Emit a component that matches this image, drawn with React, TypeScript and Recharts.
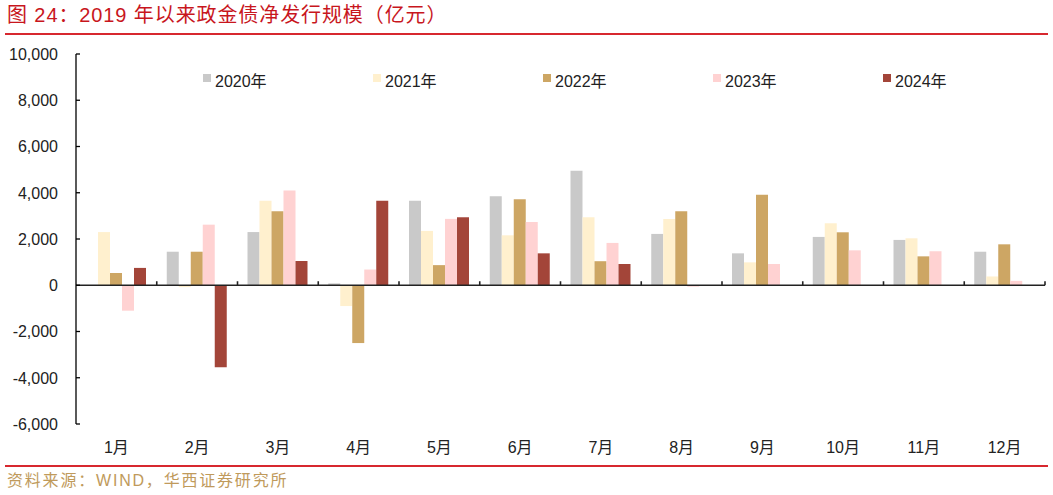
import React from 'react';
import { BarChart, Bar, XAxis, YAxis, ReferenceLine } from 'recharts';

const months = ['1月', '2月', '3月', '4月', '5月', '6月', '7月', '8月', '9月', '10月', '11月', '12月'];

const y2020 = [null, 1450, 2300, 80, 3650, 3850, 4950, 2220, 1380, 2090, 1960, 1450];
const y2021 = [2300, -80, 3650, -900, 2350, 2160, 2940, 2870, 990, 2680, 2030, 380];
const y2022 = [530, 1450, 3200, -2500, 870, 3720, 1040, 3200, 3910, 2290, 1250, 1770];
const y2023 = [-1100, 2620, 4100, 680, 2870, 2740, 1830, -60, 920, 1510, 1470, 190];
const y2024 = [750, -3550, 1050, 3650, 2940, 1380, 920, null, null, null, null, null];

const yTicks = [-6000, -4000, -2000, 0, 2000, 4000, 6000, 8000, 10000];

const series = [
  { key: 'y2020', name: '2020年', color: '#C9C9C9' },
  { key: 'y2021', name: '2021年', color: '#FFF0CE' },
  { key: 'y2022', name: '2022年', color: '#CDA664' },
  { key: 'y2023', name: '2023年', color: '#FFD2D2' },
  { key: 'y2024', name: '2024年', color: '#A34539' },
];

const data = months.map((m, i) => ({
  month: m,
  y2020: y2020[i],
  y2021: y2021[i],
  y2022: y2022[i],
  y2023: y2023[i],
  y2024: y2024[i],
}));

const FONT = '"Liberation Sans", Arial, "Noto Sans CJK SC", sans-serif';
const Y_MARGIN = 18;

const YTick = (props: any) => {
  const { x, y, payload } = props;
  const axisX = x + Y_MARGIN;
  return (
    <g>
      <line x1={axisX} y1={y} x2={axisX + 4} y2={y} stroke="#000" strokeWidth={1.3} />
      <text x={x} y={y} dy="0.36em" textAnchor="end" fontSize={16} fill="#222" fontFamily={FONT}>
        {payload.value.toLocaleString('en-US')}
      </text>
    </g>
  );
};

// zero line with small category separator ticks
const ZeroLine = (props: any) => {
  const { x1, y1, x2, y2 } = props;
  const step = (x2 - x1) / months.length;
  return (
    <g>
      <line x1={x1} y1={y1} x2={x2} y2={y2} stroke="#222" strokeWidth={1.6} />
      {months.map((m, i) => (
        <line key={m} x1={x1 + step * (i + 1)} y1={y1} x2={x1 + step * (i + 1)} y2={y1 - 4} stroke="#222" strokeWidth={1.6} />
      ))}
    </g>
  );
};

const App: React.FC = () => {
  return (
    <div style={{ position: 'absolute', left: 0, top: 0, width: 1053, height: 495, background: '#fff', overflow: 'hidden', fontFamily: FONT }}>
      <div style={{ position: 'absolute', left: 7, top: 3, fontSize: 20, lineHeight: '24px', color: '#C8161D', letterSpacing: 0.9, whiteSpace: 'nowrap' }}>
        图 24：2019 年以来政金债净发行规模（亿元）
      </div>
      <div style={{ position: 'absolute', left: 5, top: 33, width: 1043, height: 1.5, background: '#D7282F' }} />

      <BarChart
        width={1053}
        height={495}
        data={data}
        margin={{ top: 54, right: 8, bottom: 41, left: 0 }}
        barCategoryGap={10}
        barGap={0}
        style={{ position: 'absolute', left: 0, top: 0 }}
      >
        <XAxis
          dataKey="month"
          axisLine={false}
          tickLine={false}
          tickSize={0}
          tickMargin={18}
          height={30}
          interval={0}
          tick={{ fontSize: 16, fill: '#222', fontFamily: FONT }}
        />
        <YAxis
          domain={[-6000, 10000]}
          ticks={yTicks}
          interval={0}
          width={76}
          tickSize={0}
          tickMargin={Y_MARGIN}
          tickLine={false}
          axisLine={{ stroke: '#000', strokeWidth: 1.3 }}
          tick={<YTick />}
        />
        {series.map((s) => (
          <Bar key={s.key} dataKey={s.key} name={s.name} fill={s.color} isAnimationActive={false} />
        ))}
        <ReferenceLine y={0} shape={<ZeroLine />} />
      </BarChart>

      {series.map((s, i) => (
        <div key={s.key} style={{ position: 'absolute', left: 203 + 170 * i, top: 70, height: 20, display: 'flex', alignItems: 'center', whiteSpace: 'nowrap' }}>
          <span style={{ display: 'inline-block', width: 8, height: 8, background: s.color, marginRight: 4, marginTop: -5 }} />
          <span style={{ fontSize: 16, color: '#222' }}>{s.name}</span>
        </div>
      ))}

      <div style={{ position: 'absolute', left: 5, top: 465, width: 1043, height: 1.5, background: '#D7282F' }} />
      <div style={{ position: 'absolute', left: 7, top: 470, fontSize: 16, lineHeight: '22px', color: '#C09A5B', letterSpacing: 1.8, whiteSpace: 'nowrap' }}>
        资料来源：WIND，华西证券研究所
      </div>
    </div>
  );
};

export default App;
